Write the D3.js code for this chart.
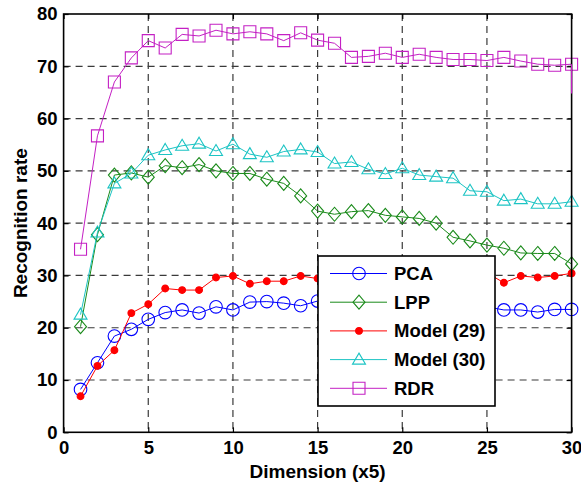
<!DOCTYPE html>
<html>
<head>
<meta charset="utf-8">
<script src="https://cdn.jsdelivr.net/npm/d3@7"></script>
<style>
  body { margin: 0; background: #fff; }
  text { font-family: "Liberation Sans", Arial, sans-serif; font-weight: bold; }
</style>
</head>
<body>
<div id="chart"></div>
<script>
// dimension index 1..30 (x5)
const dims = d3.range(1, 31);

const pca = [8.2, 13.3, 18.4, 19.7, 21.6, 22.9, 23.4, 22.8, 24.0, 23.4,
             24.9, 25.0, 24.7, 24.2, 25.1, 24.8, 24.6, 24.9, 24.5, 24.3,
             24.6, 24.2, 23.8, 24.1, 24.0, 23.4, 23.4, 23.0, 23.5, 23.5];
const lpp = [20.2, 37.8, 49.2, 49.6, 48.8, 51.0, 50.6, 51.2, 50.0, 49.5,
             49.5, 48.4, 47.6, 45.2, 42.3, 41.7, 42.2, 42.4, 41.5, 41.2,
             40.9, 40.0, 37.3, 36.6, 35.8, 35.2, 34.3, 34.2, 34.2, 32.2];
const model29 = [6.9, 12.7, 15.7, 22.8, 24.5, 27.5, 27.2, 27.2, 29.6, 29.9,
                 28.4, 28.9, 28.9, 29.9, 29.4, 29.6, 29.2, 29.8, 29.4, 29.5,
                 29.0, 29.3, 29.1, 29.6, 30.5, 28.6, 29.9, 29.6, 29.9, 30.4];
const model30 = [22.5, 38.2, 47.6, 49.5, 53.0, 54.0, 54.8, 55.2, 53.8, 55.1,
                 53.2, 52.6, 53.7, 54.1, 53.6, 51.4, 51.7, 50.3, 49.4, 50.5,
                 49.2, 48.9, 48.6, 46.2, 46.0, 44.3, 44.6, 43.7, 43.7, 44.1];
const rdr = [35.0, 56.7, 67.0, 71.6, 74.9, 73.5, 76.1, 75.8, 76.9, 76.2,
             76.6, 76.2, 74.9, 76.4, 75.0, 74.4, 71.7, 71.9, 72.5, 71.7,
             72.3, 71.7, 71.3, 71.3, 71.1, 71.7, 71.0, 70.4, 70.2, 70.4];
// stray end segment of the RDR curve at the right border
const rdrTail = [{ x: 30, y: 70.4 }, { x: 30, y: 64.8 }];

const xTicks = [0, 5, 10, 15, 20, 25, 30];
const yTicks = [0, 10, 20, 30, 40, 50, 60, 70, 80];

const series = [
  { name: "PCA", values: pca, color: "#0000ff", marker: "circle" },
  { name: "LPP", values: lpp, color: "#1a8a1a", marker: "diamond" },
  { name: "Model (29)", values: model29, color: "#ff0000", marker: "dot" },
  { name: "Model (30)", values: model30, color: "#1cc4c4", marker: "triangle" },
  { name: "RDR", values: rdr, color: "#c420c4", marker: "square" }
];

const W = 581, H = 489;
const margin = { top: 14, right: 9.4, bottom: 56.7, left: 63.6 };
const width = W - margin.left - margin.right,
      height = H - margin.top - margin.bottom;

const svg = d3.select("#chart").append("svg")
  .attr("width", W).attr("height", H);

const g = svg.append("g")
  .attr("transform", "translate(" + margin.left + "," + margin.top + ")");

const x = d3.scaleLinear().domain([0, 30]).range([0, width]);
const y = d3.scaleLinear().domain([0, 80]).range([height, 0]);

// dashed grid
const grid = g.append("g").attr("stroke", "#3a3a3a").attr("stroke-width", 1.2)
  .attr("stroke-dasharray", "7,5");
grid.selectAll(".gx").data(xTicks.filter(d => d > 0 && d < 30)).enter()
  .append("line")
  .attr("x1", d => x(d)).attr("x2", d => x(d))
  .attr("y1", 0).attr("y2", height);
grid.selectAll(".gy").data(yTicks.filter(d => d > 0 && d < 80)).enter()
  .append("line")
  .attr("y1", d => y(d)).attr("y2", d => y(d))
  .attr("x1", 0).attr("x2", width);

// axes with inward ticks
const xAxis = g.append("g")
  .attr("transform", "translate(0," + height + ")")
  .call(d3.axisBottom(x).tickValues(xTicks).tickSize(-5).tickPadding(9).tickFormat(d3.format("d")));
const yAxis = g.append("g")
  .call(d3.axisLeft(y).tickValues(yTicks).tickSize(-5).tickPadding(6).tickFormat(d3.format("d")));
g.append("g").call(d3.axisTop(x).tickValues(xTicks).tickSize(-5).tickFormat(""));
g.append("g").attr("transform", "translate(" + width + ",0)")
  .call(d3.axisRight(y).tickValues(yTicks).tickSize(-5).tickFormat(""));

g.selectAll(".domain").remove();
g.selectAll(".tick line").attr("stroke", "#000").attr("stroke-width", 1.2);
[xAxis, yAxis].forEach(a => a.selectAll("text")
  .attr("font-size", "18.5px").attr("fill", "#000")
  .style("font-family", "'Liberation Sans', Arial, sans-serif").style("font-weight", "bold"));

// marker shapes
function markerPath(type) {
  switch (type) {
    case "circle": return d3.symbol(d3.symbolCircle, Math.PI * 6.3 * 6.3)();
    case "square": return "M-6,-6H6V6H-6Z";
    case "diamond": return "M0,-7L6,0L0,7L-6,0Z";
    case "triangle": return "M0,-6.5L6.5,4.5L-6.5,4.5Z";
    case "dot": return d3.symbol(d3.symbolCircle, Math.PI * 3.4 * 3.4)();
  }
}

const line = d3.line().x((d, i) => x(dims[i])).y(d => y(d));

series.forEach(s => {
  const sg = g.append("g");
  sg.append("path").datum(s.values)
    .attr("d", line)
    .attr("fill", "none").attr("stroke", s.color).attr("stroke-width", 1);
  sg.selectAll(".m").data(s.values).enter().append("path")
    .attr("transform", (d, i) => "translate(" + x(dims[i]) + "," + y(d) + ")")
    .attr("d", markerPath(s.marker))
    .attr("fill", s.marker === "dot" ? s.color : "none")
    .attr("stroke", s.color).attr("stroke-width", 1.1);
});

// frame
g.append("rect").attr("width", width).attr("height", height)
  .attr("fill", "none").attr("stroke", "#000").attr("stroke-width", 1.6);

g.append("path").datum(rdrTail)
  .attr("d", d3.line().x(d => x(d.x)).y(d => y(d.y)))
  .attr("fill", "none").attr("stroke", "#c420c4").attr("stroke-width", 1.2);

// axis titles
svg.append("text")
  .attr("x", margin.left + width / 2).attr("y", 478)
  .attr("text-anchor", "middle").attr("font-size", "19px")
  .text("Dimension (x5)");
svg.append("text")
  .attr("transform", "translate(27," + (margin.top + height / 2) + ") rotate(-90)")
  .attr("text-anchor", "middle").attr("font-size", "19px")
  .text("Recognition rate");

// legend
const lg = svg.append("g").attr("transform", "translate(318,256)");
lg.append("rect").attr("width", 177).attr("height", 150)
  .attr("fill", "#fff").attr("stroke", "#000").attr("stroke-width", 1.6);
series.forEach((s, i) => {
  const ly = 17.5 + i * 28.7;
  const e = lg.append("g").attr("transform", "translate(0," + ly + ")");
  e.append("line").attr("x1", 12).attr("x2", 69).attr("y1", 0).attr("y2", 0)
    .attr("stroke", s.color).attr("stroke-width", 1);
  e.append("path").attr("transform", "translate(41,0)")
    .attr("d", markerPath(s.marker))
    .attr("fill", s.marker === "dot" ? s.color : "none")
    .attr("stroke", s.color).attr("stroke-width", 1.1);
  e.append("text").attr("x", 76).attr("y", 6.5)
    .attr("font-size", "18.5px").text(s.name);
});
</script>
</body>
</html>
